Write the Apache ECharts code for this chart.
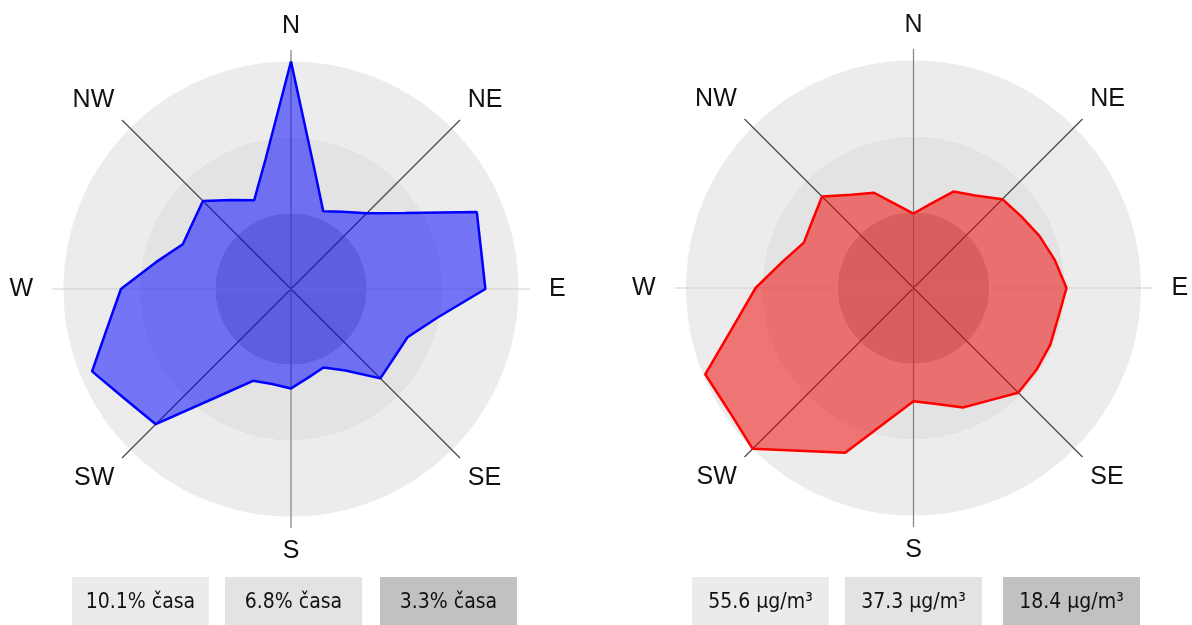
<!DOCTYPE html>
<html><head><meta charset="utf-8">
<script src="https://cdn.jsdelivr.net/npm/echarts@6/dist/echarts.min.js"></script>
<style>html,body{margin:0;padding:0;background:#fff}#c{width:1192px;height:625px}</style>
</head><body><div id="c"></div>
<script>
const directions = ['N', 'NE', 'E', 'SE', 'S', 'SW', 'W', 'NW'];
const bearings = [0, 11.25, 22.5, 33.75, 45, 56.25, 67.5, 78.75, 90, 101.25, 112.5, 123.75,
  135, 146.25, 157.5, 168.75, 180, 191.25, 202.5, 213.75, 225, 236.25, 247.5, 258.75,
  270, 281.25, 292.5, 303.75, 315, 326.25, 337.5, 348.75];
// share of time (%) per wind direction
const windTime = [10.1, 5.38, 3.74, 4.12, 4.76, 6.08, 8.93, 8.61, 8.63, 6.6, 5.6, 5.5,
  5.61, 4.35, 3.77, 4.0, 4.42, 4.3, 4.41, 5.7, 8.49, 8.83, 9.56, 8.28,
  7.55, 6.11, 5.2, 5.26, 5.53, 4.75, 4.27, 5.84];
// mean concentration (µg/m³) per wind direction
const concentration = [18.2, 20.9, 25.5, 27.2, 30.7, 31.6, 33.3, 35.2, 37.4, 36.1, 36.2, 36.1,
  36.2, 33.1, 31.6, 28.9, 27.7, 33.2, 43.6, 47.9, 55.6, 54.2, 55.1, 44.5,
  38.6, 32.7, 29.0, 29.7, 31.6, 27.4, 25.2, 20.7];
const ringLabelsTime = ['10.1% časa', '6.8% časa', '3.3% časa'];
const ringLabelsConc = ['55.6 µg/m³', '37.3 µg/m³', '18.4 µg/m³'];

const ringColors = ['#c1c1c1', '#e3e3e3', '#ececec', 'rgba(255,255,255,0)'];
const legendColors = ['#ebebeb', '#e3e3e3', '#c1c1c1'];
const lineColors = ['#808080', '#4a4a4a', '#cfcfcf', '#4a4a4a', '#808080', '#4a4a4a', '#cfcfcf', '#4a4a4a'];

const charts = [
  { values: windTime, center: [291, 289], stroke: '#0000ff', fill: 'rgba(0,0,255,0.51)', legend: ringLabelsTime, legendX: [72, 225, 380] },
  { values: concentration, center: [913.5, 288], stroke: '#ff0000', fill: 'rgba(242,0,0,0.51)', legend: ringLabelsConc, legendX: [692, 845, 1003] }
];
const AXIS_R = 239, RING_R = 227.5;
const LABEL_FONT = '"Liberation Sans", Arial, sans-serif';

const polar = [], angleAxis = [], radiusAxis = [], series = [], graphic = [];
charts.forEach((c, i) => {
  const maxV = Math.max(...c.values);
  polar.push({ center: c.center, radius: AXIS_R });
  radiusAxis.push({
    polarIndex: i, type: 'value', min: 0, max: maxV * AXIS_R / RING_R, interval: maxV / 3, z: 1,
    axisLine: { show: false }, axisTick: { show: false }, axisLabel: { show: false },
    splitLine: { show: false },
    splitArea: { show: true, areaStyle: { color: ringColors } }
  });
  angleAxis.push({
    polarIndex: i, type: 'value', min: 0, max: 360, interval: 45, startAngle: 90, clockwise: true, z: 2,
    axisLine: { show: false }, axisTick: { show: false },
    splitLine: { show: true, lineStyle: { color: lineColors, width: 1.2 } },
    axisLabel: {
      margin: 11, fontSize: 25, color: '#111', fontFamily: LABEL_FONT,
      formatter: v => {
        if (v >= 360) return '';
        const d = directions[Math.round(v / 45)];
        if (d === 'E') return '{e|E}';
        if (d === 'W') return '{w|W}';
        return d;
      },
      rich: {
        e: { fontSize: 25, color: '#111', fontFamily: LABEL_FONT, padding: [0, 0, 0, 8] },
        w: { fontSize: 25, color: '#111', fontFamily: LABEL_FONT, padding: [0, 8, 0, 0] }
      }
    }
  });
  const data = bearings.map((b, k) => [c.values[k], b]);
  data.push([c.values[0], 360]);
  series.push({
    type: 'line', coordinateSystem: 'polar', polarIndex: i, z: 3,
    symbol: 'none', smooth: false, data,
    lineStyle: { color: c.stroke, width: 2.5 },
    areaStyle: { color: c.fill, opacity: 1 }
  });
  c.legend.forEach((t, k) => {
    graphic.push({
      type: 'group', left: c.legendX[k], top: 577,
      children: [
        { type: 'rect', shape: { x: 0, y: 0, width: 137, height: 52 }, style: { fill: legendColors[k] } },
        { type: 'text', style: { text: t, x: 68.5, y: 26, align: 'center', verticalAlign: 'middle',
            fontSize: 21, fontFamily: '"DejaVu Sans Condensed", "DejaVu Sans", sans-serif', fill: '#111' } }
      ]
    });
  });
});

const chart = echarts.init(document.getElementById('c'), null, { renderer: 'canvas' });
chart.setOption({
  animation: false,
  backgroundColor: '#ffffff',
  polar, angleAxis, radiusAxis, series, graphic
});
</script>
</body></html>
